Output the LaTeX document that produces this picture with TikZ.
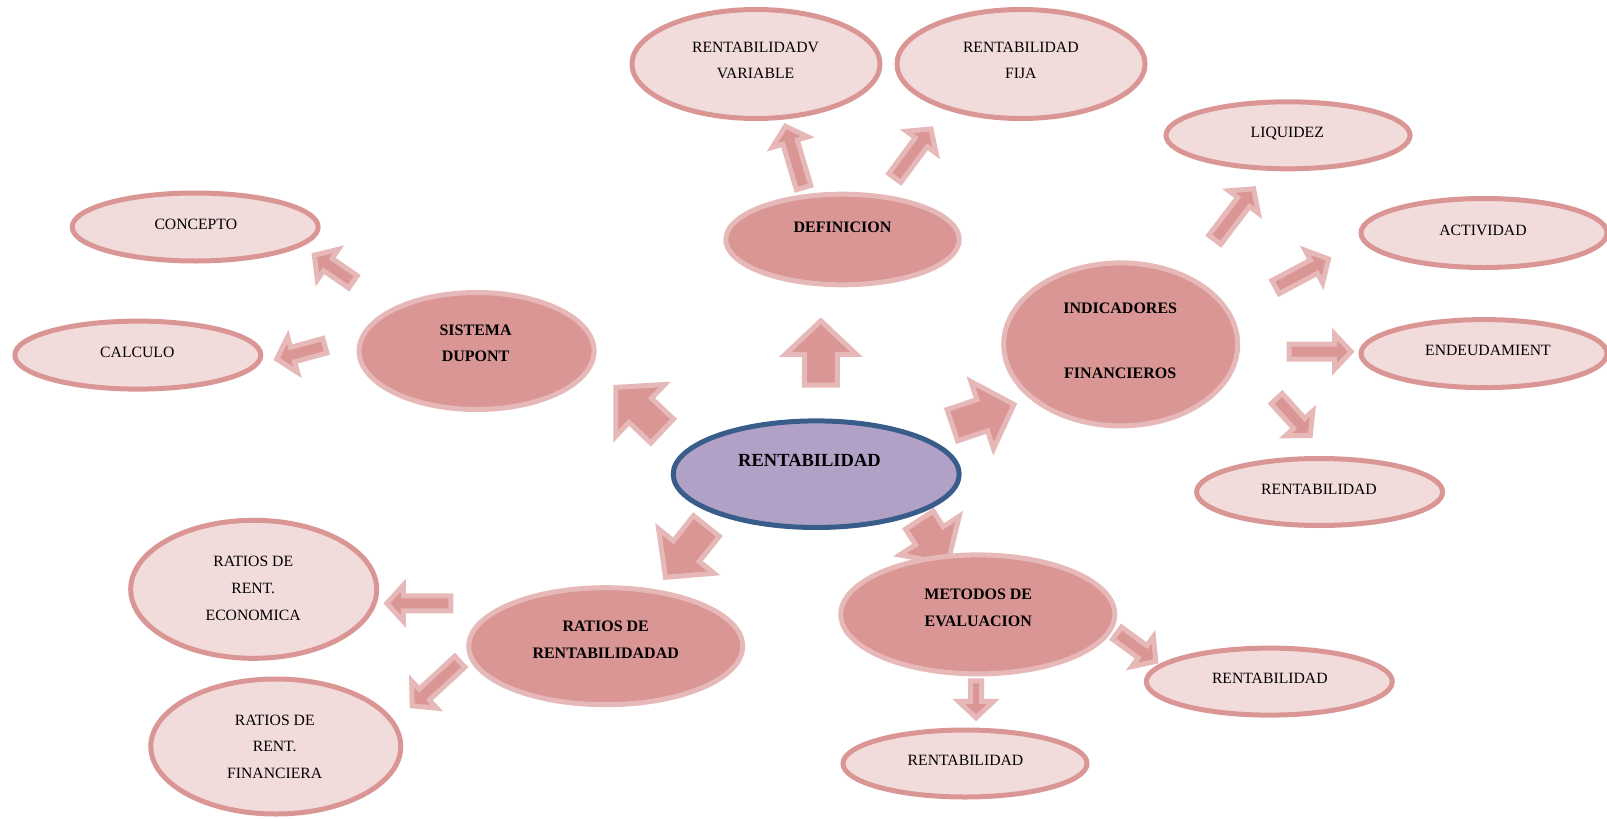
\documentclass[tikz,border=0pt]{standalone}
\usepackage{fontspec}
\setmainfont{Liberation Serif}
\usetikzlibrary{shapes.geometric}

\definecolor{rosefill}{RGB}{217,150,148}
\definecolor{roseedge}{RGB}{230,185,184}
\definecolor{leaffill}{RGB}{242,220,219}
\definecolor{lilac}{RGB}{178,161,199}
\definecolor{navy}{RGB}{56,93,138}

\tikzset{
  leaf/.style={ellipse, draw=rosefill, fill=leaffill, line width=5pt, inner sep=0pt},
  topic/.style={ellipse, draw=roseedge, fill=rosefill, line width=5pt, inner sep=0pt},
  hub/.style={ellipse, draw=navy, fill=lilac, line width=5pt, inner sep=0pt},
  blockarr/.style={draw=roseedge, fill=rosefill, line width=5pt, line join=miter},
  leaftext/.style={align=center, inner sep=0pt, text=black,
    font=\fontsize{15.7}{26.6}\selectfont},
  topictext/.style={align=center, inner sep=0pt, text=black,
    font=\fontsize{16}{26.6}\selectfont\bfseries},
  hubtext/.style={align=center, inner sep=0pt, text=black,
    font=\fontsize{18.5}{22}\selectfont\bfseries},
}

% Block arrow: #1 tail point, #2 direction (deg), #3 length,
% #4 shaft width, #5 head width, #6 head length (outer sizes)
\newcommand\blockarrow[6]{%
  \draw[blockarr, shift={(#1)}, rotate=#2]
    (2.5,{-(#4/2-2.5)}) -- ({#3-#6+1},{-(#4/2-2.5)}) -- ({#3-#6+1},{-(#5/2-3.5)})
    -- ({#3-3.5},0) -- ({#3-#6+1},{#5/2-3.5}) -- ({#3-#6+1},{#4/2-2.5})
    -- (2.5,{#4/2-2.5}) -- cycle;}

\begin{document}
\begin{tikzpicture}[x=1pt, y=-1pt]
\useasboundingbox (0,0) rectangle (1607,819);

% arrows from the central topic
\blockarrow{820.8,387.7}{90}{70.4}{38}{78}{38}
\blockarrow{664,432.7}{136.7}{69.6}{38}{78}{38}
\blockarrow{950,426}{18.6}{71}{38}{78}{38}
\blockarrow{708,524}{231.4}{71.7}{38}{78}{38}
\blockarrow{918,518}{-57}{58}{38}{78}{38}

% arrows towards the detail ellipses
\blockarrow{804.3,190}{106.5}{70}{20}{44}{21}
\blockarrow{893.3,180}{53.5}{67}{20}{44}{21}
\blockarrow{1213.3,241.7}{52.7}{70}{20}{44}{21}
\blockarrow{1273.3,288.3}{28}{66}{20}{44}{21}
\blockarrow{1286.7,351.7}{0}{68}{20}{42}{21}
\blockarrow{1275,396.7}{-47.8}{56}{20}{44}{21}
\blockarrow{355,283.3}{145.3}{53}{20}{44}{21}
\blockarrow{327.3,345}{195.5}{56}{20}{44}{21}
\blockarrow{453.3,603.3}{180}{70}{20}{43}{21}
\blockarrow{461.7,660}{222.7}{71}{20}{44}{21}
\blockarrow{1115,631.7}{-36}{54}{20}{44}{21}
\blockarrow{976,678.3}{-90}{43}{16}{42}{21}

% central topic
\node[hub, minimum width=286pt, minimum height=106.6pt] (hub) at (816.2,474.2) {};
\node[hubtext] (hubt) at (809.5,460.2) {RENTABILIDAD};

% main topics
\node[topic, minimum width=233.4pt, minimum height=90.6pt] (def) at (842.5,239.5) {};
\node[topictext] (deft) at (842.5,227.5) {DEFINICION};

\node[topic, minimum width=235pt, minimum height=117pt] (dup) at (476.6,351) {};
\node[topictext] (dupt) at (475.6,343.3) {SISTEMA\\DUPONT};

\node[topic, minimum width=234pt, minimum height=163pt] (ind) at (1120.7,344.4) {};
\node[topictext] (indt) at (1120.2,340.8) {INDICADORES\\[38pt]FINANCIEROS};

\node[topic, minimum width=274pt, minimum height=117pt] (rat) at (605.7,646.2) {};
\node[topictext] (ratt) at (605.7,639.5) {RATIOS DE\\RENTABILIDADAD};

\node[topic, minimum width=274pt, minimum height=119pt] (met) at (977.8,614.4) {};
\node[topictext] (mett) at (978.3,607.8) {METODOS DE\\EVALUACION};

% detail ellipses
\node[leaf, minimum width=248pt, minimum height=109pt] (var) at (756,64) {};
\node[leaftext] (vart) at (755.5,60.5) {RENTABILIDADV\\VARIABLE};

\node[leaf, minimum width=248pt, minimum height=109pt] (fij) at (1021,64) {};
\node[leaftext] (fijt) at (1020.8,60.5) {RENTABILIDAD\\FIJA};

\node[leaf, minimum width=244pt, minimum height=67pt] (liq) at (1288,135.3) {};
\node[leaftext] (liqt) at (1287.3,133.2) {LIQUIDEZ};

\node[leaf, minimum width=246pt, minimum height=69pt] (act) at (1484,233) {};
\node[leaftext] (actt) at (1483,230.6) {ACTIVIDAD};

\node[leaf, minimum width=246pt, minimum height=68pt] (end) at (1484,353.6) {};
\node[leaftext] (endt) at (1488,350.5) {ENDEUDAMIENT};

\node[leaf, minimum width=246pt, minimum height=67pt] (rr) at (1319.6,492) {};
\node[leaftext] (rrt) at (1319,488.9) {RENTABILIDAD};

\node[leaf, minimum width=246pt, minimum height=67pt] (rbr) at (1269.3,681.6) {};
\node[leaftext] (rbrt) at (1269.8,678.5) {RENTABILIDAD};

\node[leaf, minimum width=244pt, minimum height=67pt] (rb) at (965,763.5) {};
\node[leaftext] (rbt) at (965.5,760.5) {RENTABILIDAD};

\node[leaf, minimum width=246pt, minimum height=68pt] (con) at (195.2,227) {};
\node[leaftext] (cont) at (195.8,224.5) {CONCEPTO};

\node[leaf, minimum width=246pt, minimum height=68pt] (cal) at (137.8,355.1) {};
\node[leaftext] (calt) at (137.3,352.6) {CALCULO};

\node[leaf, minimum width=246pt, minimum height=138pt] (eco) at (253.7,589.3) {};
\node[leaftext] (ecot) at (253.2,588.3) {RATIOS DE\\RENT.\\ECONOMICA};

\node[leaf, minimum width=250pt, minimum height=135pt] (fin) at (275.8,746.5) {};
\node[leaftext] (fint) at (274.7,746.6) {RATIOS DE\\RENT.\\FINANCIERA};
\end{tikzpicture}
\end{document}
